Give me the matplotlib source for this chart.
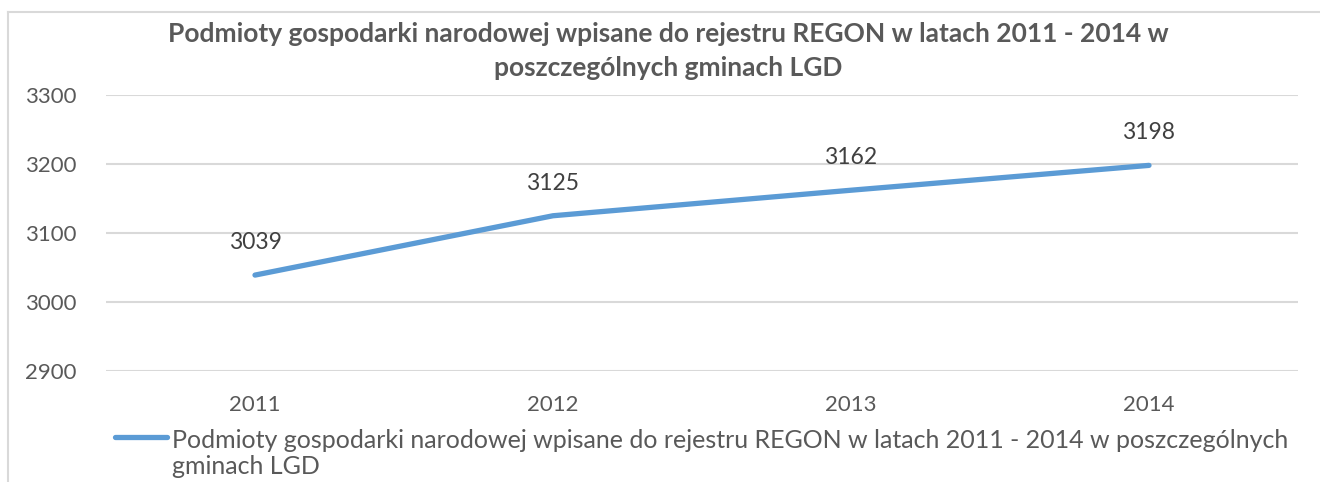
import numpy as np
import matplotlib.pyplot as plt
from matplotlib.lines import Line2D

plt.rcParams['font.family'] = ['Lato', 'DejaVu Sans']

years = ["2011", "2012", "2013", "2014"]
values = [3039, 3125, 3162, 3198]
title = ("Podmioty gospodarki narodowej wpisane do rejestru REGON w latach 2011 - 2014 w\n"
         "poszczególnych gminach LGD")
legend_line1 = "Podmioty gospodarki narodowej wpisane do rejestru REGON w latach 2011 - 2014 w poszczególnych"
legend_line2 = "gminach LGD"

text_col = "#595959"
line_col = "#5B9BD5"
grid_col = "#D9D9D9"

W, H = 1320, 482
fig = plt.figure(figsize=(W / 100, H / 100), dpi=100)
ax = fig.add_axes([106 / W, 1 - 371 / H, (1298 - 106) / W, (371 - 95) / H])

x = np.arange(len(years))
ax.plot(x, values, color=line_col, lw=3.8, solid_capstyle="round")
for xi, v in zip(x, values):
    ax.annotate(str(v), (xi, v), xytext=(0, 16), textcoords="offset points",
                ha="center", va="bottom", fontsize=16.5, color="#404040")

ax.set_xlim(-0.5, len(years) - 0.5)
ax.set_ylim(2900, 3300)
ax.set_yticks(np.arange(2900, 3301, 100))
ax.set_xticks(x)
ax.set_xticklabels(years)
ax.yaxis.grid(True, color=grid_col, lw=1.5)
ax.set_axisbelow(True)
for s in ax.spines.values():
    s.set_visible(False)
ax.tick_params(length=0, labelsize=16, labelcolor=text_col)
ax.tick_params(axis="y", pad=21)
ax.tick_params(axis="x", pad=17)

fig.text(668 / W, 1 - 51 / H, title, ha="center", va="center", fontsize=19,
         fontweight="bold", color=text_col, linespacing=1.45)

# legend
fig.add_artist(Line2D([115 / W, 167 / W], [1 - 437 / H, 1 - 437 / H], color=line_col,
                      lw=3.8, solid_capstyle="round"))
fig.text(172 / W, 1 - 440 / H, legend_line1, ha="left", va="center", fontsize=18, color=text_col)
fig.text(172 / W, 1 - 466 / H, legend_line2, ha="left", va="center", fontsize=18, color=text_col)

# chart border
fig.add_artist(Line2D([8 / W, 8 / W], [0, 1 - 12 / H], color=grid_col, lw=1.5))
fig.add_artist(Line2D([8 / W, 1], [1 - 12 / H, 1 - 12 / H], color=grid_col, lw=1.5))

fig.savefig("out.png", dpi=100, facecolor="white")
